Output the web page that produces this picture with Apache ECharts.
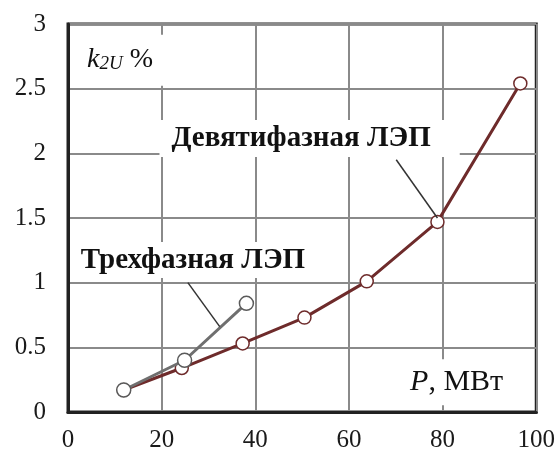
<!DOCTYPE html>
<html>
<head>
<meta charset="utf-8">
<script src="https://cdn.jsdelivr.net/npm/echarts@6/dist/echarts.min.js"></script>
<style>
html,body{margin:0;padding:0;background:#fff;}
#chart{width:558px;height:454px;}
</style>
</head>
<body>
<div id="chart"></div>
<script>
// Data
var ninePhaseP = [11.9, 24.3, 37.3, 50.5, 63.8, 78.9, 96.6];
var ninePhaseK = [0.17, 0.34, 0.53, 0.73, 1.01, 1.47, 2.54];
var threePhaseP = [11.9, 24.9, 38.1];
var threePhaseK = [0.17, 0.40, 0.84];
var xTicks = [0, 20, 40, 60, 80, 100];
var yTicks = [0, 0.5, 1, 1.5, 2, 2.5, 3];
var nineLabel = 'Девятифазная ЛЭП';
var threeLabel = 'Трехфазная ЛЭП';

function pairs(xs, ys) { return xs.map(function (x, i) { return [x, ys[i]]; }); }

var serif = '"Liberation Serif", "DejaVu Serif", serif';
var chart = echarts.init(document.getElementById('chart'), null, {renderer: 'canvas'});

var boxLabel = function (txt, extra) {
  return Object.assign({
    show: true,
    formatter: txt,
    fontFamily: serif,
    color: '#111',
    backgroundColor: '#fff'
  }, extra || {});
};

chart.setOption({
  animation: false,
  backgroundColor: '#fff',
  grid: {left: 68, top: 24, right: 21, bottom: 42, show: true, borderColor: '#222', borderWidth: 3, backgroundColor: 'transparent'},
  xAxis: {
    type: 'value', min: 0, max: 100, interval: 20,
    axisLine: {show: true, lineStyle: {color: '#222', width: 3}},
    axisTick: {show: false},
    splitLine: {show: true, lineStyle: {color: '#8a8a8a', width: 2}},
    axisLabel: {fontFamily: serif, fontSize: 25, color: '#1a1a1a', margin: 16,
      formatter: function (v) { return xTicks.indexOf(v) >= 0 ? String(v) : ''; }}
  },
  yAxis: {
    type: 'value', min: 0, max: 3, interval: 0.5,
    axisLine: {show: true, lineStyle: {color: '#222', width: 3}},
    axisTick: {show: false},
    splitLine: {show: true, lineStyle: {color: '#8a8a8a', width: 2}},
    axisLabel: {fontFamily: serif, fontSize: 25, color: '#1a1a1a', margin: 22,
      formatter: function (v) { return yTicks.indexOf(v) >= 0 ? String(v) : ''; }}
  },
  series: [
    {
      name: nineLabel,
      type: 'line',
      data: pairs(ninePhaseP, ninePhaseK),
      symbol: 'circle', symbolSize: 13, showAllSymbol: true,
      lineStyle: {color: '#6e2b2b', width: 3},
      itemStyle: {color: '#fff', borderColor: '#6e2b2b', borderWidth: 1.5},
      z: 3,
      markPoint: {
        symbol: 'rect', symbolSize: 0,
        data: [
          {coord: [51.6, 2.115], value: 0,
            label: boxLabel(nineLabel, {fontSize: 29, fontWeight: 'bold', padding: [5, 29, 3, 12]})},
          {coord: [26.8, 1.175], value: 0,
            label: boxLabel(threeLabel, {fontSize: 29, fontWeight: 'bold', padding: [6, 8, 1, 7]})},
          {coord: [11.1, 2.72], value: 0,
            label: {show: true, backgroundColor: '#fff', padding: [10, 13, 12, 13],
              formatter: '{k|k}{s|2U}{p| %}',
              rich: {
                k: {fontFamily: serif, fontStyle: 'italic', fontSize: 28, color: '#111'},
                s: {fontFamily: serif, fontStyle: 'italic', fontSize: 19, color: '#111', verticalAlign: 'bottom', padding: [10, 0, 0, 0]},
                p: {fontFamily: serif, fontSize: 28, color: '#111'}
              }}},
          {coord: [83.0, 0.23], value: 0,
            label: {show: true, backgroundColor: '#fff', padding: [8, 4, 8, 4],
              formatter: '{i|P}{n|, МВт}',
              rich: {
                i: {fontFamily: serif, fontStyle: 'italic', fontSize: 30, color: '#111'},
                n: {fontFamily: serif, fontSize: 30, color: '#111'}
              }}}
        ]
      },
      markLine: {
        symbol: 'none', silent: true,
        label: {show: false},
        lineStyle: {color: '#333', width: 1.5, type: 'solid'},
        data: [
          [{coord: [70.1, 1.95]}, {coord: [78.9, 1.50]}],
          [{coord: [25.6, 1.00]}, {coord: [32.4, 0.66]}]
        ]
      }
    },
    {
      name: threeLabel,
      type: 'line',
      data: pairs(threePhaseP, threePhaseK),
      symbol: 'circle', symbolSize: 14, showAllSymbol: true,
      lineStyle: {color: '#6f6f6f', width: 3},
      itemStyle: {color: '#fff', borderColor: '#5a5a5a', borderWidth: 1.5},
      z: 4
    }
  ]
});
</script>
</body>
</html>
